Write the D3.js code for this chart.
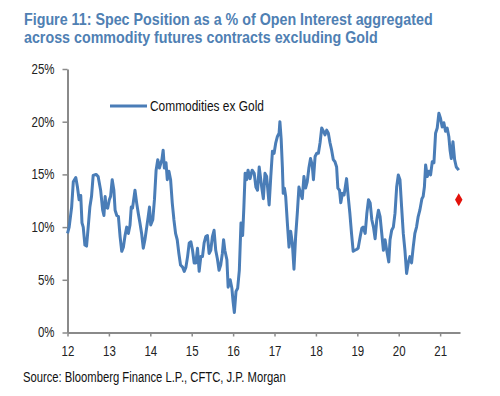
<!DOCTYPE html>
<html><head><meta charset="utf-8">
<script src="https://cdn.jsdelivr.net/npm/d3@7"></script>
<style>body{margin:0;background:#fff} svg{display:block}</style>
</head><body><svg id="c" width="500" height="396"></svg>
<script>
const titleLines = ["Figure 11: Spec Position as a % of Open Interest aggregated",
                    "across commodity futures contracts excluding Gold"];
const sourceText = "Source: Bloomberg Finance L.P., CFTC, J.P. Morgan";
const seriesName = "Commodities ex Gold";
const yTicks = [0, 5, 10, 15, 20, 25];
const xTicks = [12, 13, 14, 15, 16, 17, 18, 19, 20, 21];
const xTickLabels = ["12", "13", "14", "15", "16", "17", "18", "19", "20", "21"];

// decimal year (yy) and spec position as % of open interest
const dates = [12.00,12.04,12.10,12.14,12.20,12.24,12.28,12.32,12.35,12.38,12.42,12.46,12.50,12.54,12.58,12.62,12.69,12.74,12.80,12.85,12.88,12.91,12.93,12.97,
13.01,13.04,13.08,13.12,13.15,13.19,13.23,13.27,13.31,13.35,13.39,13.43,13.47,13.51,13.54,13.57,13.63,13.67,13.71,13.75,13.79,13.83,13.87,13.91,13.95,13.98,
14.01,14.06,14.10,14.14,14.18,14.22,14.28,14.31,14.34,14.38,14.41,14.45,14.49,14.53,14.57,14.61,14.65,14.69,14.73,14.78,14.82,14.86,14.90,14.94,14.98,
15.02,15.06,15.10,15.14,15.18,15.22,15.26,15.30,15.34,15.38,15.42,15.46,15.50,15.54,15.58,15.62,15.66,15.70,15.74,15.77,15.80,15.85,15.88,15.93,15.97,
16.00,16.03,16.07,16.11,16.15,16.19,16.23,16.26,16.29,16.33,16.36,16.41,16.46,16.51,16.55,16.59,16.63,16.69,16.73,16.77,16.81,16.87,16.91,16.95,16.99,
17.03,17.07,17.11,17.13,17.16,17.19,17.21,17.24,17.27,17.31,17.35,17.39,17.43,17.47,17.51,17.55,17.59,17.63,17.67,17.71,17.75,17.79,17.83,17.87,17.91,17.94,17.98,
18.02,18.06,18.10,18.14,18.18,18.22,18.26,18.30,18.34,18.38,18.42,18.46,18.50,18.53,18.57,18.60,18.64,18.68,18.71,18.74,18.78,18.82,18.86,18.90,18.94,18.99,
19.02,19.07,19.11,19.14,19.19,19.23,19.27,19.31,19.35,19.39,19.43,19.47,19.51,19.55,19.59,19.63,19.67,19.71,19.76,19.79,19.83,19.87,19.91,19.95,19.99,
20.03,20.07,20.11,20.15,20.19,20.23,20.27,20.31,20.35,20.39,20.43,20.47,20.51,20.56,20.59,20.62,20.65,20.69,20.73,20.77,20.81,20.85,20.89,20.93,20.97,
21.01,21.05,21.09,21.13,21.17,21.21,21.24,21.27,21.31,21.35,21.39,21.45];
const values = [9.4,10.0,11.9,14.3,14.7,13.8,12.6,13.0,10.4,10.0,8.3,8.2,10.0,11.9,12.9,14.9,15.0,14.8,13.5,11.6,11.1,12.9,11.9,11.8,
12.6,12.9,14.5,13.5,11.6,11.1,11.0,9.1,7.7,8.1,9.2,10.0,9.4,10.2,11.9,11.8,13.5,12.3,11.3,10.4,9.4,8.0,8.8,9.9,11.0,11.9,
10.2,10.7,12.6,15.4,16.4,15.6,16.4,17.3,15.6,16.1,14.5,15.3,14.5,12.3,10.7,9.4,8.8,7.5,6.4,6.2,5.8,6.2,7.2,8.5,8.6,
7.8,6.6,6.6,8.0,5.8,7.2,7.2,8.5,9.1,9.2,7.5,7.8,9.1,9.7,7.8,7.0,5.9,6.4,7.5,8.8,7.8,6.9,4.3,5.0,4.2,
2.9,1.9,3.9,4.2,5.9,10.4,9.2,11.9,15.1,14.5,15.4,14.6,15.4,15.1,13.8,13.5,15.7,13.8,12.7,15.1,14.8,12.1,14.8,17.2,17.0,
18.0,18.6,18.9,20.0,18.4,15.7,13.2,13.7,12.9,10.4,8.1,9.6,8.5,6.0,9.1,11.3,13.8,13.2,12.7,14.8,13.7,14.3,15.6,16.5,15.9,14.5,16.7,
17.0,17.0,18.0,19.4,19.1,18.75,19.2,18.9,18.0,17.3,16.4,16.2,15.7,13.7,13.5,12.3,13.2,13.05,13.8,14.6,12.9,11.3,9.4,7.7,7.8,7.9,
8.0,9.1,9.9,10.0,9.4,11.3,12.6,12.3,10.7,10.0,8.9,10.7,11.6,11.0,9.4,7.8,8.8,7.8,6.7,8.8,9.7,10.0,11.3,13.8,14.95,
14.5,11.9,9.4,7.8,5.6,6.6,7.2,6.6,8.1,9.4,10.0,11.0,11.6,12.7,12.9,13.8,15.9,14.8,15.3,14.95,16.2,16.1,18.9,19.4,20.8,
20.3,19.5,19.9,19.1,19.4,18.6,17.3,16.5,18.1,16.4,15.7,15.4];

const markerDates = [21.45];
const markerValues = [12.6];

const svg = d3.select("#c");
const font = "'Liberation Sans',Arial,sans-serif";
const blue = "#4a7db7";
const axisGrey = "#8a8a8a";

// horizontally condense a text element (Arial Narrow look) around its anchor x
function condense(sel, factorOrWidth, isWidth) {
  sel.each(function () {
    const t = d3.select(this);
    const ax = +(t.attr("x") || 0);
    const s = isWidth ? factorOrWidth / this.getComputedTextLength() : factorOrWidth;
    t.attr("transform", `translate(${ax},0) scale(${s},1) translate(${-ax},0)`);
  });
}

const x = d3.scaleLinear().domain([12, 21.48]).range([67.5, 460]);
const y = d3.scaleLinear().domain([0, 25]).range([332.5, 69]);

// title
const titleWidths = [409, 354];
svg.append("g").selectAll("text").data(titleLines).join("text")
  .attr("x", 24).attr("y", (d, i) => 24.9 + i * 18.4)
  .attr("font-family", font).attr("font-weight", "bold").attr("font-size", 16.5)
  .attr("fill", "#4f80b3").text(d => d)
  .each(function (d, i) { condense(d3.select(this), titleWidths[i], true); });

// axes
const yAxis = svg.append("g").attr("transform", `translate(${x.range()[0]},0)`)
  .call(d3.axisLeft(y).tickValues(yTicks).tickFormat(d => d + "%").tickSize(5).tickSizeOuter(0).tickPadding(8));
const xAxis = svg.append("g").attr("transform", `translate(0,${y(0)})`)
  .call(d3.axisBottom(x).tickValues(xTicks).tickFormat((d, i) => xTickLabels[i]).tickSize(4).tickSizeOuter(0).tickPadding(9.5));
[yAxis, xAxis].forEach(g => {
  g.select(".domain").attr("stroke", axisGrey).attr("stroke-width", 2);
  g.selectAll(".tick line").attr("stroke", axisGrey).attr("stroke-width", 1.5);
  g.selectAll(".tick text").attr("font-family", font).attr("font-size", 14).attr("fill", "#222");
  condense(g.selectAll(".tick text"), 0.82, false);
});

// series line
const pts = dates.map((d, i) => [d, values[i]]);
svg.append("path").datum(pts)
  .attr("fill", "none").attr("stroke", blue).attr("stroke-width", 3)
  .attr("stroke-linejoin", "round")
  .attr("d", d3.line().x(d => x(d[0])).y(d => y(d[1])));

// marker
svg.append("g").selectAll("path").data(markerDates).join("path")
  .attr("d", d3.symbol().type(d3.symbolDiamond).size(48))
  .attr("transform", (d, i) => `translate(${x(d)},${y(markerValues[i])})`)
  .attr("fill", "#e3120b");

// legend
const lg = svg.append("g");
lg.append("line").attr("x1", 110).attr("x2", 147).attr("y1", 106).attr("y2", 106)
  .attr("stroke", blue).attr("stroke-width", 3);
lg.append("text").attr("x", 150).attr("y", 110.8)
  .attr("font-family", font).attr("font-size", 14).attr("fill", "#111").text(seriesName)
  .call(s => condense(s, 114, true));

// source
svg.append("text").attr("x", 23).attr("y", 381.7)
  .attr("font-family", font).attr("font-size", 14).attr("fill", "#111").text(sourceText)
  .call(s => condense(s, 263, true));
</script>
</body></html>
